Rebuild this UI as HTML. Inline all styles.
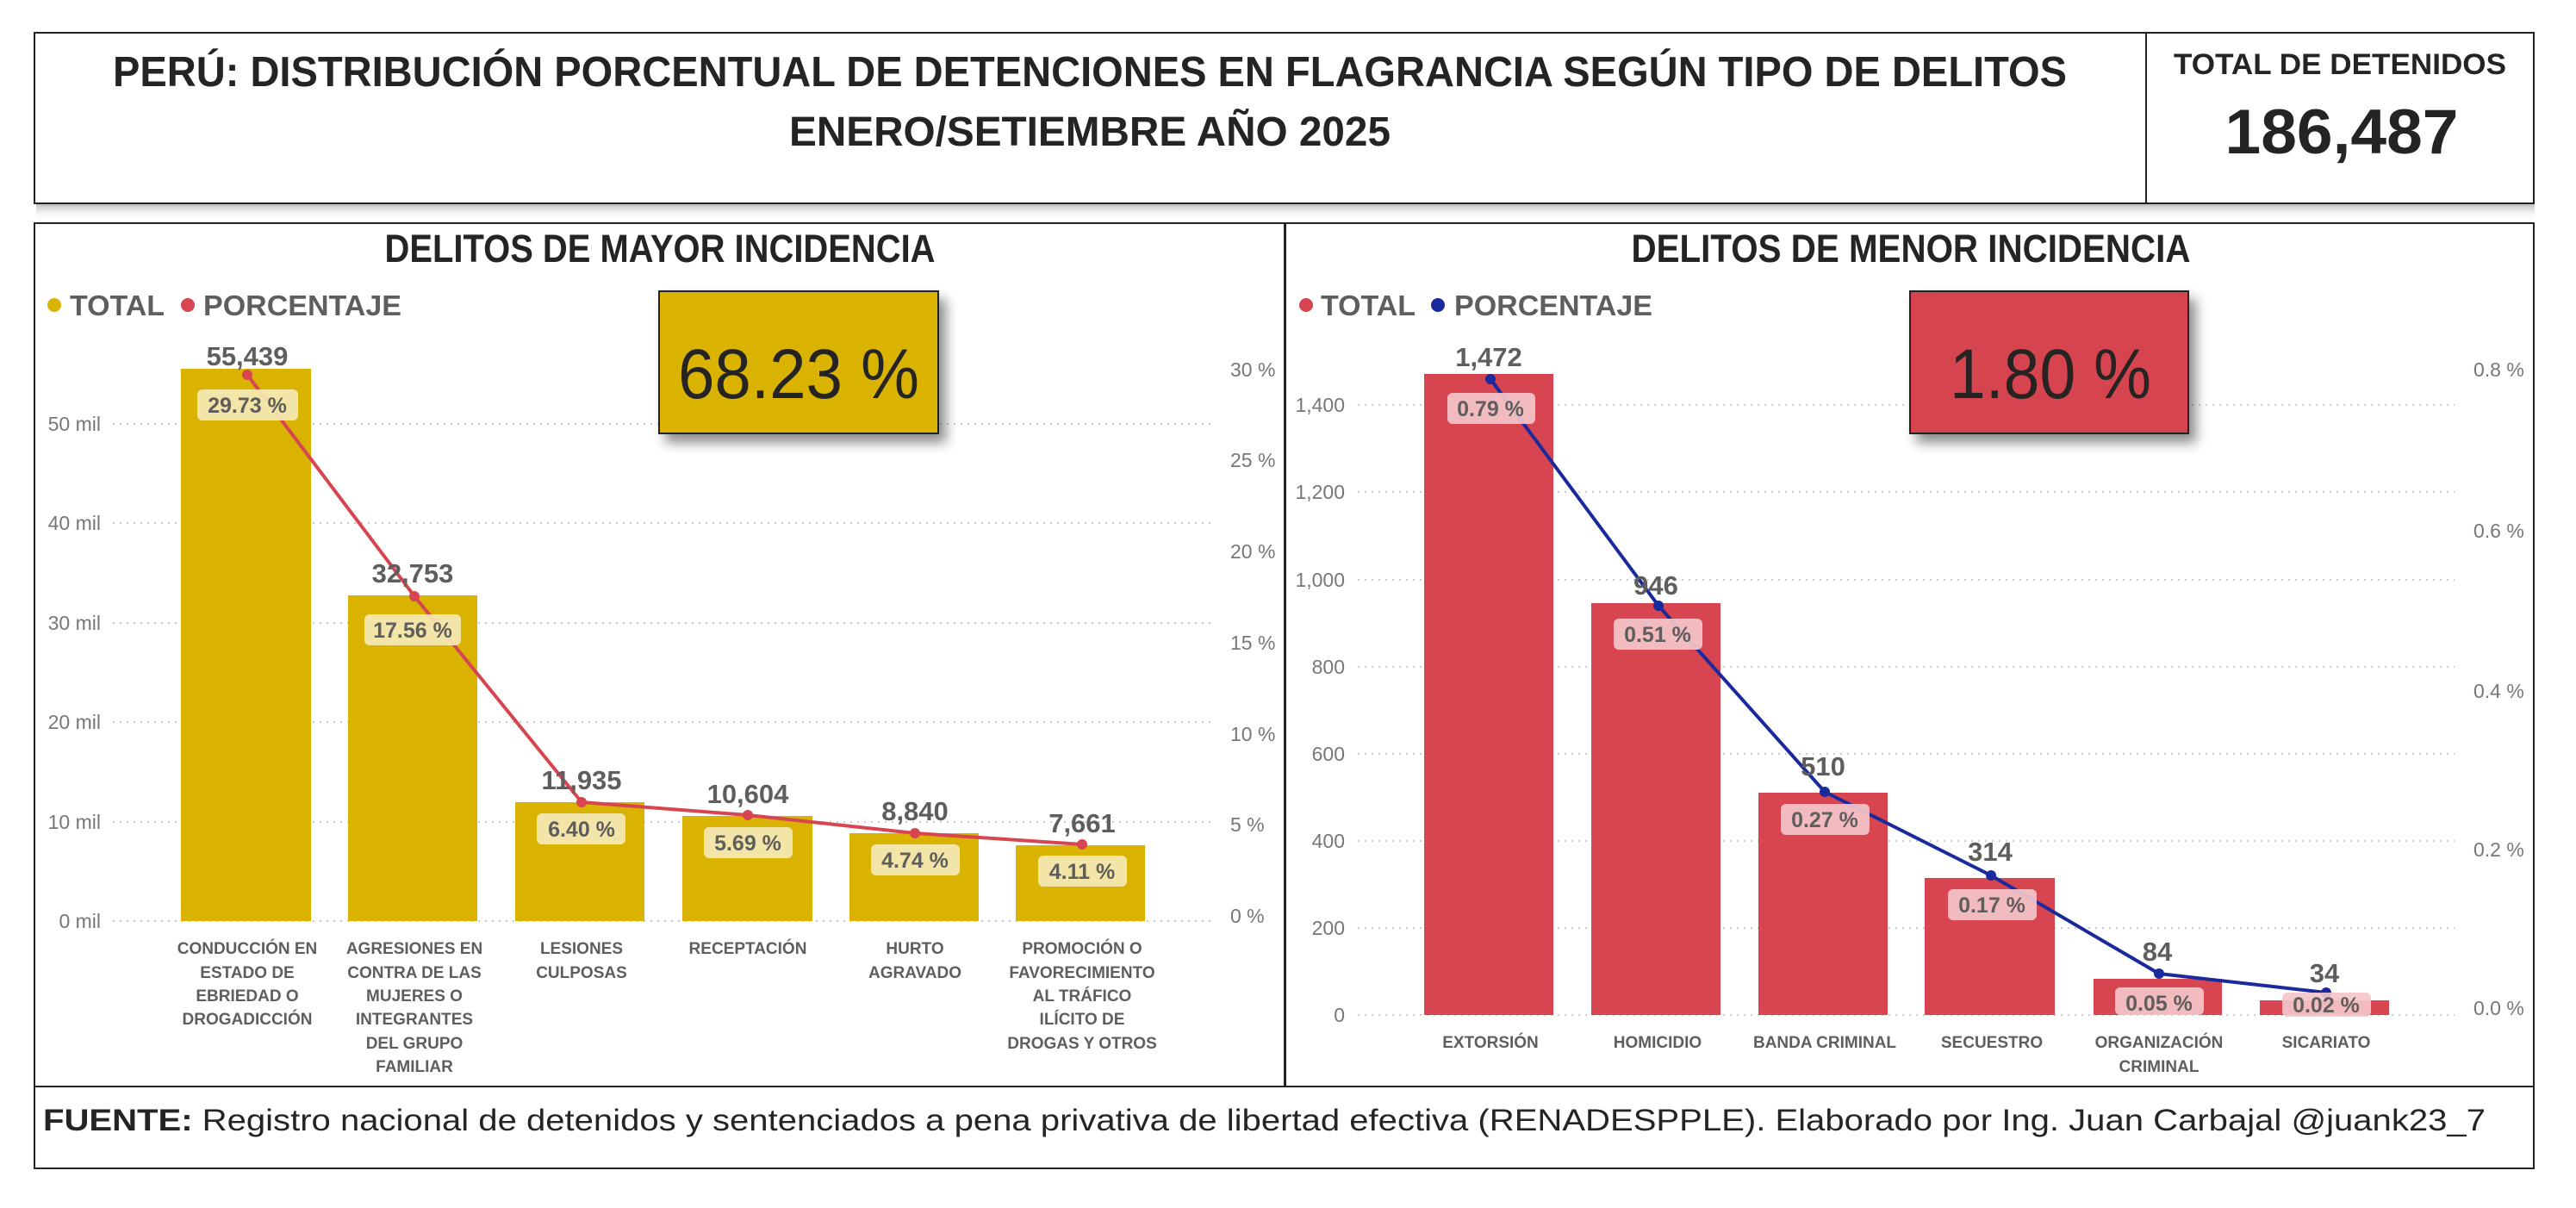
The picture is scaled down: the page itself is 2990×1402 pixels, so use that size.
<!DOCTYPE html>
<html><head><meta charset="utf-8"><style>
html,body{margin:0;padding:0;background:#fff;}
svg{display:block;}
text{font-family:"Liberation Sans",sans-serif;}
</style></head><body>
<svg width="2990" height="1402" viewBox="0 0 2990 1402" xmlns="http://www.w3.org/2000/svg">
<defs>
<linearGradient id="sh" x1="0" y1="0" x2="0" y2="1"><stop offset="0" stop-color="#999" stop-opacity="0.7"/><stop offset="1" stop-color="#fff" stop-opacity="0"/></linearGradient>
<filter id="ds" x="-20%" y="-20%" width="150%" height="150%"><feGaussianBlur in="SourceAlpha" stdDeviation="7"/><feOffset dx="8" dy="10"/><feComponentTransfer><feFuncA type="linear" slope="0.45"/></feComponentTransfer><feMerge><feMergeNode/><feMergeNode in="SourceGraphic"/></feMerge></filter>
</defs>
<rect width="2990" height="1402" fill="#fff"/>
<!-- header -->
<rect x="42" y="236" width="2900" height="20" fill="url(#sh)"/>
<rect x="40" y="38" width="2901" height="198" fill="#fff" stroke="#222" stroke-width="2"/>
<line x1="2491" y1="38" x2="2491" y2="236" stroke="#222" stroke-width="2"/>
<text x="1265" y="100" text-anchor="middle" font-size="49" font-weight="bold" fill="#252423" textLength="2268" lengthAdjust="spacingAndGlyphs">PERÚ: DISTRIBUCIÓN PORCENTUAL DE DETENCIONES EN FLAGRANCIA SEGÚN TIPO DE DELITOS</text>
<text x="1265" y="169" text-anchor="middle" font-size="48" font-weight="bold" fill="#252423" textLength="698" lengthAdjust="spacingAndGlyphs">ENERO/SETIEMBRE AÑO 2025</text>
<text x="2716" y="86" text-anchor="middle" font-size="34" font-weight="bold" fill="#252423" textLength="386" lengthAdjust="spacingAndGlyphs">TOTAL DE DETENIDOS</text>
<text x="2718" y="178" text-anchor="middle" font-size="73" font-weight="bold" fill="#252423" textLength="271" lengthAdjust="spacingAndGlyphs">186,487</text>

<!-- panels -->
<rect x="40" y="259" width="1451" height="1002" fill="#fff" stroke="#222" stroke-width="2"/>
<rect x="1492" y="259" width="1449" height="1002" fill="#fff" stroke="#222" stroke-width="2"/>
<rect x="40" y="1261" width="2901" height="95" fill="#fff" stroke="#222" stroke-width="2"/>

<!-- LEFT PANEL -->
<text x="766" y="304" text-anchor="middle" font-size="45" font-weight="bold" fill="#252423" textLength="639" lengthAdjust="spacingAndGlyphs">DELITOS DE MAYOR INCIDENCIA</text>
<circle cx="63" cy="354" r="8" fill="#d9b300"/>
<text x="81" y="366" font-size="33" font-weight="bold" fill="#605e5c" textLength="110" lengthAdjust="spacingAndGlyphs">TOTAL</text>
<circle cx="218" cy="354" r="8" fill="#d64550"/>
<text x="236" y="366" font-size="33" font-weight="bold" fill="#605e5c" textLength="230" lengthAdjust="spacingAndGlyphs">PORCENTAJE</text>

<g stroke="#ccc" stroke-width="2" stroke-dasharray="2,6">
<line x1="131" y1="492" x2="1407" y2="492"/><line x1="131" y1="607" x2="1407" y2="607"/><line x1="131" y1="723" x2="1407" y2="723"/><line x1="131" y1="838" x2="1407" y2="838"/><line x1="131" y1="954" x2="1407" y2="954"/><line x1="131" y1="1069" x2="1407" y2="1069"/>
</g>
<g font-size="23" fill="#777" text-anchor="end">
<text x="117" y="500">50 mil</text><text x="117" y="615">40 mil</text><text x="117" y="731">30 mil</text><text x="117" y="846">20 mil</text><text x="117" y="962">10 mil</text><text x="117" y="1077">0 mil</text>
</g>
<g font-size="23" fill="#777">
<text x="1428" y="437">30 %</text><text x="1428" y="542">25 %</text><text x="1428" y="648">20 %</text><text x="1428" y="754">15 %</text><text x="1428" y="860">10 %</text><text x="1428" y="965">5 %</text><text x="1428" y="1071">0 %</text>
</g>
<g fill="#d9b300">
<rect x="210" y="428" width="151" height="641"/>
<rect x="404" y="691" width="150" height="378"/>
<rect x="598" y="931" width="150" height="138"/>
<rect x="792" y="947" width="151" height="122"/>
<rect x="986" y="967" width="150" height="102"/>
<rect x="1179" y="981" width="150" height="88"/>
</g>
<polyline points="287,435 481,692 675,931 868,946 1062,967 1256,980" fill="none" stroke="#d64550" stroke-width="4"/>
<g fill="#d64550"><circle cx="287" cy="435" r="6"/><circle cx="481" cy="692" r="6"/><circle cx="675" cy="931" r="6"/><circle cx="868" cy="946" r="6"/><circle cx="1062" cy="967" r="6"/><circle cx="1256" cy="980" r="6"/></g>
<g fill="#f4e9b5" fill-opacity="0.92">
<rect x="229" y="452" width="117" height="36" rx="6"/>
<rect x="423" y="713" width="112" height="36" rx="6"/>
<rect x="623" y="944" width="103" height="36" rx="6"/>
<rect x="817" y="960" width="103" height="36" rx="6"/>
<rect x="1011" y="980" width="103" height="36" rx="6"/>
<rect x="1205" y="993" width="103" height="36" rx="6"/>
</g>
<g font-size="25" font-weight="bold" fill="#605e5c" text-anchor="middle">
<text x="287" y="479">29.73 %</text><text x="479" y="740">17.56 %</text><text x="675" y="971">6.40 %</text><text x="868" y="987">5.69 %</text><text x="1062" y="1007">4.74 %</text><text x="1256" y="1020">4.11 %</text>
</g>
<g font-size="31" font-weight="bold" fill="#605e5c" text-anchor="middle">
<text x="287" y="424">55,439</text><text x="479" y="676">32,753</text><text x="675" y="916">11,935</text><text x="868" y="932">10,604</text><text x="1062" y="952">8,840</text><text x="1256" y="966">7,661</text>
</g>
<g font-size="19" font-weight="bold" fill="#605e5c" text-anchor="middle">
<text x="287" y="1107">CONDUCCIÓN EN</text><text x="287" y="1135">ESTADO DE</text><text x="287" y="1162">EBRIEDAD O</text><text x="287" y="1189">DROGADICCIÓN</text>
<text x="481" y="1107">AGRESIONES EN</text><text x="481" y="1135">CONTRA DE LAS</text><text x="481" y="1162">MUJERES O</text><text x="481" y="1189">INTEGRANTES</text><text x="481" y="1217">DEL GRUPO</text><text x="481" y="1244">FAMILIAR</text>
<text x="675" y="1107">LESIONES</text><text x="675" y="1135">CULPOSAS</text>
<text x="868" y="1107">RECEPTACIÓN</text>
<text x="1062" y="1107">HURTO</text><text x="1062" y="1135">AGRAVADO</text>
<text x="1256" y="1107">PROMOCIÓN O</text><text x="1256" y="1135">FAVORECIMIENTO</text><text x="1256" y="1162">AL TRÁFICO</text><text x="1256" y="1189">ILÍCITO DE</text><text x="1256" y="1217">DROGAS Y OTROS</text>
</g>
<g filter="url(#ds)"><rect x="765" y="338" width="324" height="165" fill="#d9b300" stroke="#222" stroke-width="2"/></g>
<text x="927" y="462" text-anchor="middle" font-size="82" fill="#252423" textLength="280" lengthAdjust="spacingAndGlyphs">68.23 %</text>

<!-- RIGHT PANEL -->
<text x="2218" y="304" text-anchor="middle" font-size="45" font-weight="bold" fill="#252423" textLength="649" lengthAdjust="spacingAndGlyphs">DELITOS DE MENOR INCIDENCIA</text>
<circle cx="1516" cy="354" r="8" fill="#d64550"/>
<text x="1533" y="366" font-size="33" font-weight="bold" fill="#605e5c" textLength="110" lengthAdjust="spacingAndGlyphs">TOTAL</text>
<circle cx="1669" cy="354" r="8" fill="#1a2a9c"/>
<text x="1688" y="366" font-size="33" font-weight="bold" fill="#605e5c" textLength="230" lengthAdjust="spacingAndGlyphs">PORCENTAJE</text>
<g stroke="#ccc" stroke-width="2" stroke-dasharray="2,6">
<line x1="1576" y1="470" x2="2849" y2="470"/><line x1="1576" y1="571" x2="2849" y2="571"/><line x1="1576" y1="673" x2="2849" y2="673"/><line x1="1576" y1="774" x2="2849" y2="774"/><line x1="1576" y1="875" x2="2849" y2="875"/><line x1="1576" y1="976" x2="2849" y2="976"/><line x1="1576" y1="1077" x2="2849" y2="1077"/><line x1="1576" y1="1178" x2="2849" y2="1178"/>
</g>
<g font-size="23" fill="#777" text-anchor="end">
<text x="1561" y="478">1,400</text><text x="1561" y="579">1,200</text><text x="1561" y="681">1,000</text><text x="1561" y="782">800</text><text x="1561" y="883">600</text><text x="1561" y="984">400</text><text x="1561" y="1085">200</text><text x="1561" y="1186">0</text>
</g>
<g font-size="23" fill="#777">
<text x="2871" y="437">0.8 %</text><text x="2871" y="624">0.6 %</text><text x="2871" y="810">0.4 %</text><text x="2871" y="994">0.2 %</text><text x="2871" y="1178">0.0 %</text>
</g>
<g fill="#d64550">
<rect x="1653" y="434" width="150" height="744"/>
<rect x="1847" y="700" width="150" height="478"/>
<rect x="2041" y="920" width="150" height="258"/>
<rect x="2234" y="1019" width="151" height="159"/>
<rect x="2430" y="1136" width="149" height="42"/>
<rect x="2623" y="1161" width="150" height="17"/>
</g>
<polyline points="1730,440 1925,703 2118,919 2311,1016 2506,1130 2700,1152" fill="none" stroke="#1a2a9c" stroke-width="4"/>
<g fill="#1a2a9c"><circle cx="1730" cy="440" r="6"/><circle cx="1925" cy="703" r="6"/><circle cx="2118" cy="919" r="6"/><circle cx="2311" cy="1016" r="6"/><circle cx="2506" cy="1130" r="6"/><circle cx="2700" cy="1152" r="6"/></g>
<g fill="#f3c6ca" fill-opacity="0.92">
<rect x="1680" y="456" width="102" height="36" rx="6"/>
<rect x="1873" y="718" width="103" height="36" rx="6"/>
<rect x="2067" y="933" width="103" height="36" rx="6"/>
<rect x="2261" y="1032" width="103" height="36" rx="6"/>
<rect x="2455" y="1146" width="103" height="32" rx="6"/>
<rect x="2649" y="1152" width="103" height="28" rx="6"/>
</g>
<g font-size="25" font-weight="bold" fill="#605e5c" text-anchor="middle">
<text x="1730" y="483">0.79 %</text><text x="1924" y="745">0.51 %</text><text x="2118" y="960">0.27 %</text><text x="2312" y="1059">0.17 %</text><text x="2506" y="1173">0.05 %</text><text x="2700" y="1175">0.02 %</text>
</g>
<g font-size="31" font-weight="bold" fill="#605e5c" text-anchor="middle">
<text x="1728" y="425">1,472</text><text x="1922" y="690">946</text><text x="2116" y="900">510</text><text x="2310" y="999">314</text><text x="2504" y="1115">84</text><text x="2698" y="1140">34</text>
</g>
<g font-size="19" font-weight="bold" fill="#605e5c" text-anchor="middle">
<text x="1730" y="1216">EXTORSIÓN</text><text x="1924" y="1216">HOMICIDIO</text><text x="2118" y="1216">BANDA CRIMINAL</text><text x="2312" y="1216">SECUESTRO</text><text x="2506" y="1216">ORGANIZACIÓN</text><text x="2506" y="1244">CRIMINAL</text><text x="2700" y="1216">SICARIATO</text>
</g>
<g filter="url(#ds)"><rect x="2217" y="338" width="323" height="165" fill="#d64550" stroke="#222" stroke-width="2"/></g>
<text x="2380" y="462" text-anchor="middle" font-size="82" fill="#252423" textLength="234" lengthAdjust="spacingAndGlyphs">1.80 %</text>

<!-- footer -->
<text x="50" y="1312" font-size="35" fill="#252423" textLength="2835" lengthAdjust="spacingAndGlyphs"><tspan font-weight="bold">FUENTE:</tspan> Registro nacional de detenidos y sentenciados a pena privativa de libertad efectiva (RENADESPPLE). Elaborado por Ing. Juan Carbajal @juank23_7</text>
</svg>
</body></html>
